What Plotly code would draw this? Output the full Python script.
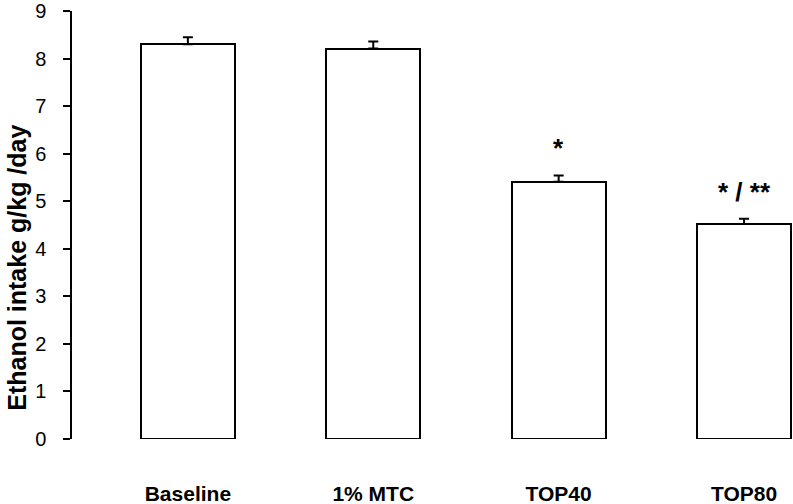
import plotly.graph_objects as go

categories = ["Baseline", "1% MTC", "TOP40", "TOP80"]
means = [8.30, 8.21, 5.41, 4.52]
errors = [0.15, 0.15, 0.13, 0.11]
sig_labels = ["", "", "*", "* / **"]
sig_y = [None, None, 6.12, 5.2]
y_ticks = [0, 1, 2, 3, 4, 5, 6, 7, 8, 9]

FONT = "Liberation Sans, Arial"

fig = go.Figure()
fig.add_trace(go.Bar(
    x=categories, y=means, width=0.507,
    marker=dict(color="white", line=dict(color="black", width=2)),
    error_y=dict(type="data", symmetric=False, array=errors,
                 arrayminus=[0] * len(errors), color="black",
                 thickness=2, width=5),
    showlegend=False,
))

for c, lab, yy in zip(categories, sig_labels, sig_y):
    if lab:
        fig.add_annotation(x=c, y=yy, text=lab, showarrow=False,
                           font=dict(family=FONT, size=26, color="black",
                                     weight="bold"))

fig.add_annotation(
    xref="paper", yref="paper", x=-0.0763, y=0.40,
    text="Ethanol intake g/kg /day", textangle=-90, showarrow=False,
    xanchor="center", yanchor="middle",
    font=dict(family=FONT, size=25, color="black", weight="bold"),
)

fig.update_layout(
    width=793, height=504,
    margin=dict(l=72, r=0, t=11, b=65),
    plot_bgcolor="white", paper_bgcolor="white",
    bargap=0,
)
fig.update_xaxes(
    range=[-0.625, 3.264], showline=False, showgrid=False, ticks="",
    tickfont=dict(family=FONT, size=21, color="black", weight="bold"),
    ticklabelstandoff=40, zeroline=False,
)
fig.update_yaxes(
    range=[0, 9], tickvals=y_ticks, showline=True, linecolor="black",
    linewidth=1.5, ticks="outside", ticklen=7, tickcolor="black", tickwidth=1.5,
    showgrid=False, zeroline=False,
    tickfont=dict(family=FONT, size=20, color="black"),
    ticklabelstandoff=13,
)

fig.write_html(
    "out.html",
    config={"displayModeBar": False},
    post_script="document.body.style.margin='0';document.body.style.padding='0';",
)
